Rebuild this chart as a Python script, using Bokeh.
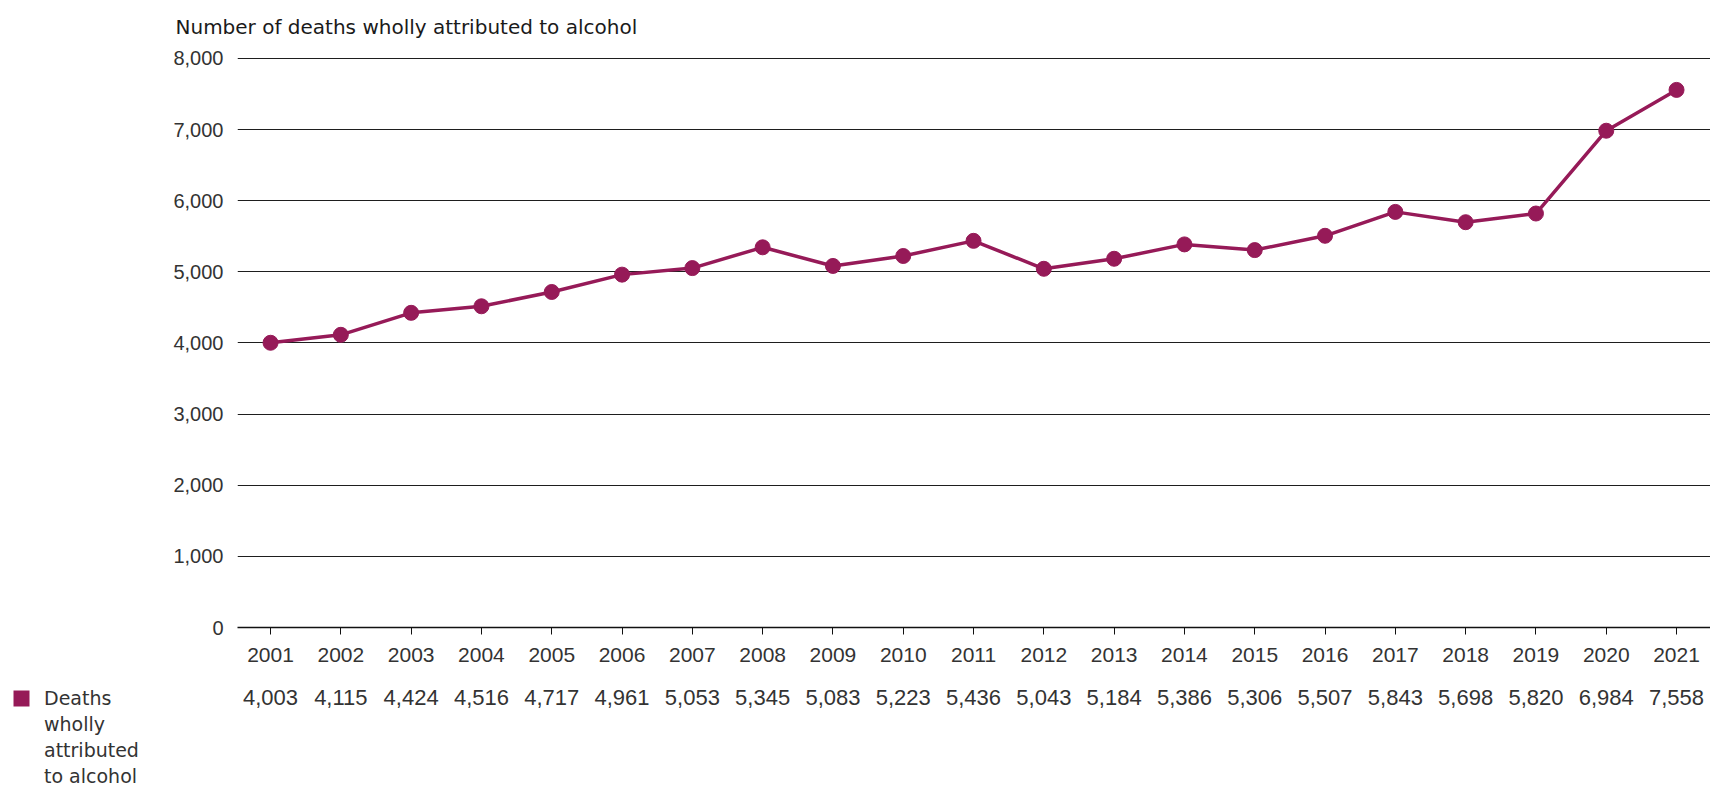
from bokeh.plotting import figure
from bokeh.layouts import column
from bokeh.core.properties import value
from bokeh.models import (LinearAxis, FixedTicker, Range1d, Legend, LegendItem,
                          NumeralTickFormatter, Grid)
from bokeh.embed import file_html
from bokeh.resources import INLINE

# ---------------- data ----------------
years = [2001, 2002, 2003, 2004, 2005, 2006, 2007, 2008, 2009, 2010, 2011,
         2012, 2013, 2014, 2015, 2016, 2017, 2018, 2019, 2020, 2021]
deaths = [4003, 4115, 4424, 4516, 4717, 4961, 5053, 5345, 5083, 5223, 5436,
          5043, 5184, 5386, 5306, 5507, 5843, 5698, 5820, 6984, 7558]
y_ticks = [0, 1000, 2000, 3000, 4000, 5000, 6000, 7000, 8000]
series_label_lines = ["Deaths", "wholly", "attributed", "to alcohol"]
title_text = "Number of deaths wholly attributed to alcohol"

# ---------------- style / layout ----------------
COLOR = "#961a58"
NUM_FONT = "Liberation Sans"
TXT_FONT = "DejaVu Sans"
TXT = "#333333"

W = 1710
H1, H2 = 680, 107
LEFT = 237                      # frame left edge (px)
X0 = 2000.53                    # x value at frame left
PX_PER_YEAR = 70.3
X1 = X0 + (W - LEFT) / PX_PER_YEAR

p = figure(width=W, height=H1, output_backend="svg", toolbar_location=None,
           x_range=Range1d(X0, X1), y_range=Range1d(0, 8112),
           x_axis_type=None, y_axis_type=None,
           min_border_left=LEFT, min_border_right=0, min_border_top=50,
           min_border_bottom=53, outline_line_color=None,
           background_fill_color="white", border_fill_color="white")

# title
p.title.text = title_text
p.title.text_font = TXT_FONT
p.title.text_font_size = "20px"
p.title.text_font_style = "normal"
p.title.text_color = "#1a1a1a"
p.title.align = "left"
p.title.offset = -62
p.title.standoff = 24

# y axis
yaxis = LinearAxis(ticker=FixedTicker(ticks=y_ticks),
                   formatter=NumeralTickFormatter(format="0,0"))
yaxis.axis_line_color = None
yaxis.major_tick_line_color = None
yaxis.minor_tick_line_color = None
yaxis.major_label_standoff = 8
yaxis.major_label_text_font = NUM_FONT
yaxis.major_label_text_font_size = "20px"
yaxis.major_label_text_color = TXT
p.add_layout(yaxis, "left")

p.add_layout(Grid(dimension=1, ticker=yaxis.ticker,
                  grid_line_color="#1e1e1e", grid_line_width=1))

# x axis (years)
xaxis = LinearAxis(ticker=FixedTicker(ticks=years),
                   major_label_overrides={y: str(y) for y in years})
xaxis.axis_line_color = "#111111"
xaxis.axis_line_width = 1.5
xaxis.major_tick_line_color = "#111111"
xaxis.major_tick_out = 7
xaxis.major_tick_in = 0
xaxis.minor_tick_line_color = None
xaxis.major_label_standoff = 13
xaxis.major_label_text_font = NUM_FONT
xaxis.major_label_text_font_size = "21px"
xaxis.major_label_text_color = TXT
p.add_layout(xaxis, "below")

# series
p.line(years, deaths, line_color=COLOR, line_width=3.5)
p.scatter(years, deaths, size=15, fill_color=COLOR, line_color=COLOR)

# ---------------- data table row + key ----------------
p2 = figure(width=W, height=H2, output_backend="svg", toolbar_location=None,
            x_range=Range1d(X0 - LEFT / PX_PER_YEAR, X1), y_range=Range1d(0, H2),
            x_axis_type=None, y_axis_type=None,
            min_border_left=0, min_border_right=0, min_border_top=0,
            min_border_bottom=0, outline_line_color=None,
            background_fill_color="white", border_fill_color="white")
p2.xgrid.visible = False
p2.ygrid.visible = False
for fig in (p, p2):
    try:
        fig.frame_align = False
    except AttributeError:
        pass

value_labels = [f"{v:,}" for v in deaths]
p2.text(x=years, y=[H2 - 17] * len(years), text=value_labels,
        text_align="center", text_baseline="middle",
        text_font=value(NUM_FONT), text_font_size="22px", text_color=TXT)

# key swatch: zero-size bars of the series (draw nothing, give the key its fill)
swatch = p2.vbar(x=years, bottom=deaths, top=deaths, width=0,
                 fill_color=COLOR, line_color=None)
items = [LegendItem(label=series_label_lines[0], renderers=[swatch])]
items += [LegendItem(label=t, renderers=[]) for t in series_label_lines[1:]]
legend = Legend(items=items, location=(11, 0), orientation="vertical",
                glyph_width=20, glyph_height=20, label_standoff=13,
                padding=0, margin=0, spacing=4, border_line_color=None,
                background_fill_alpha=0, click_policy="none",
                label_text_font=TXT_FONT, label_text_font_size="19px",
                label_text_color=TXT)
p2.add_layout(legend, "center")

layout = column(p, p2, spacing=0)
open("out.html", "w").write(file_html(layout, INLINE))
